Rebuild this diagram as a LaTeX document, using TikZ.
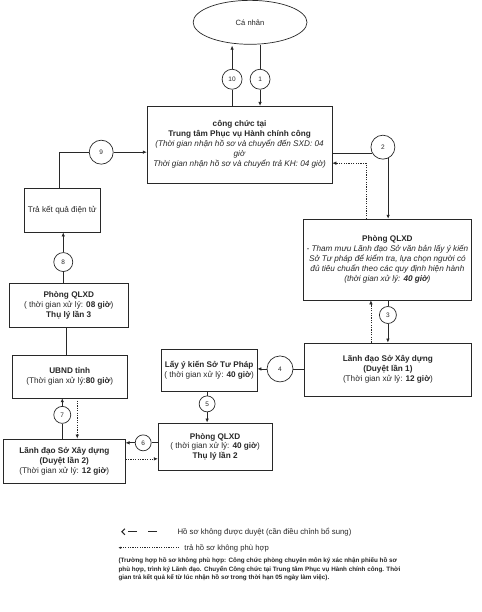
\documentclass[tikz,border=0pt]{standalone}
\usepackage{fontspec}
\setmainfont{Liberation Sans}
\usetikzlibrary{shapes.geometric,arrows.meta,calc}
\definecolor{ink}{RGB}{40,40,40}
\begin{document}
\begin{tikzpicture}[x=1pt,y=-1pt,
  font=\fontsize{8.2}{10}\selectfont,
  every path/.style={draw=ink},
  line width=0.7pt,
  box/.style={draw=ink, rectangle, align=center, inner sep=1pt, text=ink},
  num/.style={draw=ink, circle, inner sep=0pt, text=ink, font=\fontsize{6.5}{7}\selectfont},
  arr/.style={-{Latex[length=4pt,width=3.5pt]}},
  dot/.style={dash pattern=on 1.2pt off 1.2pt, line width=0.6pt}
]
\useasboundingbox (0,0) rectangle (481,612);
\fill[white] (0,0) rectangle (481,612);

% nodes
\node[draw=ink, ellipse, minimum width=114pt, minimum height=44pt, text=ink, font=\fontsize{7.6}{8}\selectfont] (cn) at (250,22) {Cá nhân};

\node[box, minimum width=185pt, minimum height=77pt] (b1) at (239.5,144.5)
 {\textbf{công chức tại}\\
  \textbf{Trung tâm Phục vụ Hành chính công}\\
  \textit{(Thời gian nhận hồ sơ và chuyển đến SXD: 04}\\
  \textit{giờ}\\
  \textit{Thời gian nhận hồ sơ và chuyển trả KH: 04 giờ)}};

\node[box, minimum width=169pt, minimum height=81pt] (b2) at (387.5,259.5)
 {\textbf{Phòng QLXD}\\
  \textit{- Tham mưu Lãnh đạo Sở văn bản lấy ý kiến}\\
  \textit{Sở Tư pháp để kiểm tra, lựa chọn người có}\\
  \textit{đủ tiêu chuẩn theo các quy định hiện hành}\\
  \textit{(thời gian xử lý: \textbf{40 giờ})}};

\node[box, minimum width=168pt, minimum height=53pt] (b3) at (388,369.5)
 {\textbf{Lãnh đạo Sở Xây dựng}\\
  \textbf{(Duyệt lần 1)}\\
  (Thời gian xử lý: \textbf{12 giờ})};

\node[box, minimum width=96pt, minimum height=42pt] (b4) at (209,370)
 {\textbf{Lấy ý kiến Sở Tư Pháp}\\
  ( thời gian xử lý: \textbf{40 giờ})};

\node[box, minimum width=114pt, minimum height=48pt] (b5) at (215,447)
 {\textbf{Phòng QLXD}\\
  ( thời gian xử lý: \textbf{40 giờ})\\
  \textbf{Thụ lý lần 2}};

\node[box, minimum width=122pt, minimum height=45pt] (b6) at (64,461.5)
 {\textbf{Lãnh đạo Sở Xây dựng}\\
  \textbf{(Duyệt lần 2)}\\
  (Thời gian xử lý: \textbf{12 giờ})};

\node[box, minimum width=115pt, minimum height=43pt] (b7) at (69.5,376.5)
 {\textbf{UBND tỉnh}\\
  (Thời gian xử lý:\textbf{80 giờ})};

\node[box, minimum width=119pt, minimum height=44pt] (b8) at (68.5,305)
 {\textbf{Phòng QLXD}\\
  ( thời gian xử lý: \textbf{08 giờ})\\
  \textbf{Thụ lý lần 3}};

\node[box, minimum width=76pt, minimum height=44pt] (b9) at (62,210)
 {Trả kết quả điện tử};

\node[num, minimum size=20pt] (c10) at (232,79) {10};
\node[num, minimum size=20pt] (c1) at (260,79) {1};
\node[num, minimum size=24pt] (c2) at (383,147) {2};
\node[num, minimum size=17pt] (c3) at (388,315) {3};
\node[num, minimum size=26pt] (c4) at (280,369) {4};
\node[num, minimum size=16pt] (c5) at (207,404) {5};
\node[num, minimum size=16pt] (c6) at (143,443) {6};
\node[num, minimum size=17pt] (c7) at (62,415) {7};
\node[num, minimum size=19pt] (c8) at (63,262) {8};
\node[num, minimum size=24pt] (c9) at (101,152) {9};

% connectors
\draw (c1 |- cn.south) -- (c1);
\draw[arr] (c1) -- (c1 |- b1.north);
\draw (c10 |- b1.north) -- (c10);
\draw[arr, shorten >=1pt] (c10) -- (c10 |- cn.south);

\draw (b1.east |- c2.210) -- (c2.210);
\draw[arr] (c2.-65) -- (c2.-65 |- b2.north);
\draw[dot, arr] ([xshift=-21.5pt]b2.north) |- ([yshift=-18.5pt]b1.east);

\draw (c3 |- b2.south) -- (c3);
\draw[arr] (c3) -- (c3 |- b3.north);
\draw[dot, arr] ([xshift=-17pt]b3.north) -- ([xshift=-17pt]b3.north |- b2.south);

\draw (b3.west |- c4) -- (c4);
\draw[arr] (c4) -- (c4 -| b4.east);

\draw (c5 |- b4.south) -- (c5);
\draw[arr] (c5) -- (c5 |- b5.north);

\draw (b5.west |- c6) -- (c6);
\draw[arr] (c6) -- (c6 -| b6.east);
\draw[dot, arr] ([yshift=2.5pt]b6.east) -- ([yshift=2.5pt]b6.east -| b5.west);

\draw (c7 |- b6.north) -- (c7);
\draw[arr] (c7) -- (c7 |- b7.south);
\draw[dot, arr] ([xshift=7.5pt]b7.south) -- ([xshift=7.5pt]b7.south |- b6.north);

\draw ([xshift=-2.5pt]b8.south) -- ([xshift=-2.5pt]b8.south |- b7.north);

\draw (c8 |- b8.north) -- (c8);
\draw[arr] (c8) -- (c8 |- b9.south);

\draw ([xshift=-3pt]b9.north) |- (c9);
\draw[arr] (c9) -- (c9 -| b1.west);

% legend
\coordinate (la1) at (157,532);
\coordinate (la2) at (121,532);
\draw[line width=1pt, dash pattern=on 9pt off 11pt, -{Straight Barb[length=3pt,width=6pt,line width=1pt]}] (la1) -- (la2);
\node[anchor=west, inner sep=0pt, text=ink, font=\fontsize{7.8}{8}\selectfont] (lt1) at (177,532) {Hồ sơ không được duyệt (cần điều chỉnh bổ sung)};

\coordinate (lb1) at (179,548);
\coordinate (lb2) at (118,548);
\draw[dot, -{Latex[length=3pt,width=2.5pt]}] (lb1) -- (lb2);
\node[anchor=west, inner sep=0pt, text=ink, font=\fontsize{7.7}{8}\selectfont] (lt2) at (184,549) {trả hồ sơ không phù hợp};

\node[anchor=north west, align=left, inner sep=0pt, text=ink, font=\bfseries\fontsize{6.3}{8.5}\selectfont] (note) at (118,558)
 {(Trường hợp hồ sơ không phù hợp: Công chức phòng chuyên môn ký xác nhận phiếu hồ sơ\\
  phù hợp, trình ký Lãnh đạo. Chuyển Công chức tại Trung tâm Phục vụ Hành chính công. Thời\\
  gian trả kết quả kể từ lúc nhận hồ sơ trong thời hạn 05 ngày làm việc).};
\end{tikzpicture}
\end{document}
